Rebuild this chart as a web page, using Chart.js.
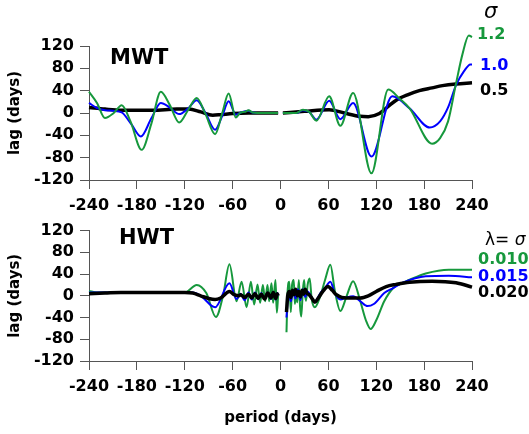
<!DOCTYPE html>
<html>
<head>
<meta charset="utf-8">
<script src="https://cdn.jsdelivr.net/npm/chart.js@4.4.1/dist/chart.umd.min.js"></script>
<style>
  body { margin: 0; background: #fff; }
  #wrap { position: relative; width: 529px; height: 434px; font-family: "DejaVu Sans", sans-serif; }
  #wrap canvas { position: absolute; left: 0; }
  .lbl { position: absolute; line-height: 1; white-space: nowrap; font-weight: bold; }
</style>
</head>
<body>
<div id="wrap">
  <canvas id="grafico_mwt" width="529" height="215" style="top:0"></canvas>
  <canvas id="grafico_hwt" width="529" height="219" style="top:215px"></canvas>

  <div class="lbl" style="left:110px;top:47px;font-size:21px">MWT</div>
  <div class="lbl" style="left:119px;top:227px;font-size:21px">HWT</div>

  <div class="lbl" style="left:484px;top:1px;font-size:21px;font-weight:normal;font-style:italic">σ</div>
  <div class="lbl" style="left:477px;top:26px;font-size:16px;color:#16983c">1.2</div>
  <div class="lbl" style="left:480px;top:57px;font-size:16px;color:#0000ff">1.0</div>
  <div class="lbl" style="left:480px;top:82px;font-size:16px;color:#000">0.5</div>

  <div class="lbl" style="left:485px;top:231px;font-size:17px;font-weight:normal">λ= <i>σ</i></div>
  <div class="lbl" style="left:478px;top:251px;font-size:16px;color:#16983c">0.010</div>
  <div class="lbl" style="left:478px;top:268px;font-size:16px;color:#0000ff">0.015</div>
  <div class="lbl" style="left:478px;top:284px;font-size:16px;color:#000">0.020</div>
</div>

<script>
// Eixos comuns
const periodTicks = [-240, -180, -120, -60, 0, 60, 120, 180, 240];
const lagTicks = [-120, -80, -40, 0, 40, 80, 120];

// MWT - sigma 1.2 (verde)
const mwtDays12 = [-240, -230, -220, -209, -199, -188, -174, -162, -150, -139, -127, -116, -105, -94, -82, -73, -65, -56, -50, -45, -40, -35, -20, -3,
                   0,
                   3, 20, 28, 36, 45, 61, 75, 91, 114, 135, 149, 162, 190, 200, 210, 220, 228, 236, 240];
const mwtLag12 = [38, 18, -9, 0, 14, -15, -66, -20, 38, 15, -17, 5, 27, -2, -38, 0, 35, -8, 1, 2, 5, 1, 0, 0,
                  null,
                  0, 0, 6, 2, -14, 30, -23, 36, -108, 42, 26, 8, -55, -45, -15, 53, 105, 139, 136];

// MWT - sigma 1.0 (azul)
const mwtDays10 = [-240, -230, -220, -210, -199, -187, -175, -162, -150, -139, -127, -116, -105, -94, -82, -73, -65, -56, -50, -40, -35, -20, -3,
                   0,
                   3, 20, 28, 36, 45, 61, 75, 91, 114, 140, 162, 187, 200, 210, 220, 230, 238, 240];
const mwtLag10 = [18, 9, 5, 4, 1, -20, -42, -10, 18, 10, -2, 8, 23, 0, -30, -5, 21, -3, 1, 4, 1, 0, 0,
                  null,
                  0, 0, 5, 2, -12, 22, -11, 18, -78, 30, 8, -26, -15, 10, 50, 75, 87, 87];

// MWT - sigma 0.5 (preto)
const mwtDays05 = [-240, -220, -200, -160, -130, -115, -100, -85, -75, -60, -40, -3,
                   0,
                   3, 30, 61, 80, 100, 110, 124, 135, 145, 160, 174, 190, 203, 220, 240];
const mwtLag05 = [10, 7, 5, 5, 7, 7, 2, -4, -3, -1, 0, 0,
                  null,
                  0, 3, 6, 0, -6, -6.5, -1, 12, 23, 33, 40, 45, 49, 52, 54];

// HWT - lambda 0.010 (verde)
const hwtDays010 = [-240, -230, -120, -105, -93, -81, -72, -64, -55, -48.8, -42.5, -37.1, -33, -28.8, -25.5, -22.1, -19.2, -16.3, -14.2, -11.3, -9.2, -6.3, -4.6, -3,
                    0,
                    7.5, 9, 11, 13, 14.5, 16.6, 18, 19.6, 21, 23, 24.5, 26, 28, 29.6, 31, 32, 34, 36.6, 39, 43, 50, 56, 62.5, 68, 75, 83, 91, 100, 107, 113, 120, 130, 141, 150, 161, 182, 211, 240];
const hwtLag010 = [9, 6, 6, 20, 5, -39, 0, 58, -10, 26, -21, 26, -16, 21, -13, 20, -10, 20, -10, 23, -13, 29, -31, 0,
                   null,
                   -67, 10, 26, -30, 20, 29, -15, 5, -12, 29, -20, -38, 10, 29, 0, -9, 20, 32, -5, -21, 0, 30, 57, 10, -28, 0, 27, -10, -45, -61, -45, -10, 14, 22, 29, 41, 48, 48];

// HWT - lambda 0.015 (azul)
const hwtDays015 = [-240, -200, -120, -110, -100, -82, -64, -55, -50, -45, -40, -36, -32, -28, -24, -20, -16, -12, -9, -6, -4, -3,
                    0,
                    7.5, 10, 13, 16, 19, 22, 25, 28, 31, 34, 38, 43, 50, 56, 62.5, 68, 75, 83, 91, 100, 109, 117, 130, 141, 153, 182, 211, 240];
const hwtLag015 = [6, 6, 6, 6, 0, -21, 23, -6, 4, -8, 6, -7, 6, -6, 5, -6, 6, -6, 7, -7, 5, 0,
                   null,
                   -40, 5, -10, 10, -5, 12, -8, 12, -2, 8, 0, -10, 5, 15, 26, 5, -7, -3, -1, -10, -19, -15, 5, 14, 24, 36, 37, 34];

// HWT - lambda 0.020 (preto)
const hwtDays020 = [-240, -220, -200, -120, -110, -100, -90, -82, -75, -64, -58, -52, -50, -45, -40, -36, -32, -28, -24, -20, -16, -12, -9, -6, -4, -3,
                    0,
                    7.5, 9, 11, 13, 15, 17, 19, 21, 23, 25, 27, 29, 31, 33, 36, 40, 43, 47, 53, 59.5, 65, 70, 77, 90, 100, 110, 120, 132.5, 145, 161.6, 190, 220, 240];
const hwtLag020 = [4, 5, 6, 6, 5, 0, -5, -7, -4, 8, 2, 0, 2, -3, 3, -4, 4, -5, 3, -6, 5, -4, 6, -5, 4, 0,
                   null,
                   -30, 0, 8, -3, 10, 2, 12, 0, 8, -2, 10, 3, 12, 5, 2, -6, -12, -5, 8, 17, 10, 2, -3, -4, -4, 0, 8, 17, 21, 25, 27, 24, 16];

const VERDE = '#16983c';
const AZUL = '#0000ff';
const PRETO = '#000000';
const EIXO = '#555555';

const pontos = (xs, ys) => xs.map((x, i) => ({ x: x, y: ys[i] }));

function serie(xs, ys, cor, largura, ordem) {
    return {
        data: pontos(xs, ys),
        borderColor: cor,
        borderWidth: largura,
        pointRadius: 0,
        fill: false,
        spanGaps: false,
        clip: false,
        cubicInterpolationMode: 'monotone',
        order: ordem
    };
}

function criarGrafico(id, datasets, alturaEixoX, paddingTop, tituloX) {
    const fonteTick = { family: 'DejaVu Sans', size: 16, weight: 'bold' };
    const fonteTitulo = { family: 'DejaVu Sans', size: 15, weight: 'bold' };
    return new Chart(document.getElementById(id).getContext('2d'), {
        type: 'line',
        data: { datasets: datasets },
        options: {
            responsive: false,
            animation: false,
            layout: { padding: { left: 0, top: paddingTop, right: 57, bottom: 0 } },
            plugins: { legend: { display: false }, tooltip: { enabled: false } },
            scales: {
                x: {
                    type: 'linear',
                    min: -240, max: 240,
                    afterBuildTicks: axis => { axis.ticks = periodTicks.map(v => ({ value: v })); },
                    afterFit: axis => { axis.height = alturaEixoX; },
                    ticks: { color: '#000', font: fonteTick, padding: 7, maxRotation: 0, autoSkip: false },
                    grid: { drawOnChartArea: false, tickLength: 9, color: EIXO },
                    border: { color: EIXO },
                    title: {
                        display: !!tituloX, text: tituloX || '', color: '#000',
                        font: fonteTitulo,
                        padding: { top: 0, bottom: 7 }
                    }
                },
                y: {
                    min: -120, max: 120,
                    afterBuildTicks: axis => { axis.ticks = lagTicks.map(v => ({ value: v })); },
                    afterFit: axis => { axis.width = 89; },
                    ticks: { color: '#000', font: fonteTick, padding: 6, autoSkip: false },
                    grid: { drawOnChartArea: false, tickLength: 9, color: EIXO },
                    border: { color: EIXO },
                    title: {
                        display: true, text: 'lag (days)', color: '#000',
                        font: fonteTitulo,
                        padding: { top: 6, bottom: 0 }
                    }
                }
            }
        }
    });
}

criarGrafico('grafico_mwt', [
    serie(mwtDays12, mwtLag12, VERDE, 2, 0),
    serie(mwtDays10, mwtLag10, AZUL, 2, 1),
    serie(mwtDays05, mwtLag05, PRETO, 3.5, 2)
], 35, 46, null);

criarGrafico('grafico_hwt', [
    serie(hwtDays020, hwtLag020, PRETO, 3.5, 0),
    serie(hwtDays015, hwtLag015, AZUL, 2, 1),
    serie(hwtDays010, hwtLag010, VERDE, 2, 2)
], 73, 12, 'period (days)');
</script>
</body>
</html>
